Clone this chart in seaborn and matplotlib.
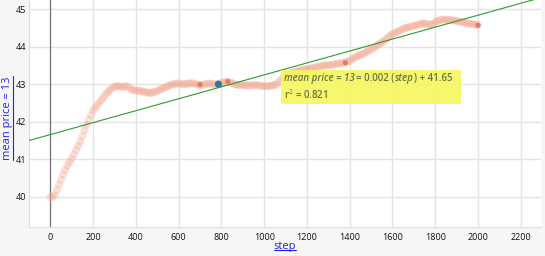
import numpy as np
import pandas as pd
import matplotlib
matplotlib.use("Agg")
import matplotlib.pyplot as plt
from matplotlib.lines import Line2D
from matplotlib.patches import Rectangle
from matplotlib.transforms import offset_copy
import seaborn as sns

steps = list(range(0, 2001, 10))
mean_price = [
    40.00, 40.00, 40.05, 40.18, 40.32, 40.46, 40.60, 40.72, 40.84, 40.93,
    41.02, 41.13, 41.25, 41.36, 41.48, 41.62, 41.78, 41.92, 42.05, 42.18,
    42.30, 42.38, 42.45, 42.52, 42.58, 42.66, 42.74, 42.80, 42.85, 42.90,
    42.93, 42.95, 42.95, 42.93, 42.92, 42.94, 42.95, 42.90, 42.85, 42.84,
    42.83, 42.83, 42.82, 42.81, 42.80, 42.78, 42.77, 42.77, 42.78, 42.80,
    42.82, 42.85, 42.88, 42.90, 42.92, 42.95, 42.97, 42.99, 43.00, 43.02,
    43.02, 43.01, 43.00, 43.00, 43.01, 43.02, 43.03, 43.02, 43.00, 42.99,
    42.98, 42.98, 42.99, 43.01, 43.02, 43.01, 43.00, 43.00, 43.00, 43.01,
    43.03, 43.05, 43.06, 43.07, 43.05, 43.03, 43.00, 42.99, 42.98, 42.98,
    42.98, 42.97, 42.97, 42.96, 42.97, 42.98, 42.98, 42.97, 42.96, 42.95,
    42.95, 42.94, 42.95, 42.96, 42.97, 42.98, 43.00, 43.06, 43.12, 43.18,
    43.22, 43.26, 43.28, 43.30, 43.32, 43.34, 43.35, 43.37, 43.38, 43.39,
    43.40, 43.41, 43.42, 43.44, 43.45, 43.46, 43.47, 43.49, 43.50, 43.50,
    43.51, 43.51, 43.52, 43.53, 43.54, 43.55, 43.56, 43.57, 43.58, 43.60,
    43.62, 43.66, 43.70, 43.73, 43.75, 43.78, 43.80, 43.83, 43.86, 43.89,
    43.92, 43.96, 44.00, 44.04, 44.08, 44.11, 44.14, 44.20, 44.25, 44.30,
    44.33, 44.36, 44.38, 44.41, 44.44, 44.47, 44.49, 44.51, 44.52, 44.54,
    44.55, 44.57, 44.58, 44.60, 44.62, 44.61, 44.60, 44.59, 44.58, 44.60,
    44.65, 44.68, 44.70, 44.71, 44.72, 44.72, 44.71, 44.71, 44.70, 44.69,
    44.68, 44.67, 44.66, 44.65, 44.63, 44.62, 44.61, 44.60, 44.60, 44.58,
    44.57,
]
red_steps = [700, 830, 1380, 2000]
red_prices = [42.99, 43.07, 43.57, 44.57]
blue_steps = [786]
blue_prices = [43.00]

x_ticks = list(range(0, 2201, 200))
y_ticks = [40, 41, 42, 43, 44, 45]
x_label = "step"
y_label = "mean price = 13"
eq_slope = "0.002"
eq_intercept = "41.65"
r2_text = "0.821"

assert len(steps) == len(mean_price)
df = pd.DataFrame({"step": steps, "price": mean_price})

sns.set_theme(style="white")
plt.rcParams["font.family"] = ["Open Sans", "DejaVu Sans"]
plt.rcParams["mathtext.fontset"] = "custom"
plt.rcParams["mathtext.rm"] = "Open Sans"
plt.rcParams["mathtext.it"] = "Open Sans:italic"

fig = plt.figure(figsize=(5.45, 2.56), dpi=100, facecolor="#f6f6f6")
ax = fig.add_axes([29 / 545, 29 / 256, 512 / 545, 227 / 256])
ax.set_facecolor("white")
ax.set_xlim(-100, 2295)
ax.set_ylim(39.2, 45.24)
ax.set_xticks(x_ticks)
ax.set_yticks(y_ticks)
ax.grid(True, color="#e4e4e4", lw=1.0)
ax.set_axisbelow(True)
for s in ["top", "right"]:
    ax.spines[s].set_visible(False)
for s in ["left", "bottom"]:
    ax.spines[s].set_color("#dddddd")
    ax.spines[s].set_linewidth(0.8)
ax.tick_params(axis="both", length=0, labelsize=6.5, colors="#111111")
ax.tick_params(axis="x", pad=4)
ax.tick_params(axis="y", pad=2)

ax.axvline(0, color="#777777", lw=0.9, zorder=1)

sns.scatterplot(data=df, x="step", y="price", ax=ax, color="#f2a58e",
                alpha=0.33, s=34, edgecolor="none", marker="o", zorder=2,
                legend=False)
sns.regplot(data=df, x="step", y="price", ax=ax, scatter=False, ci=None,
            truncate=False, color="#2e9a2e", line_kws={"lw": 0.8, "zorder": 3})
sns.scatterplot(x=red_steps, y=red_prices, ax=ax, color="#e9785e", s=14,
                edgecolor="none", zorder=4, legend=False)
sns.scatterplot(x=blue_steps, y=blue_prices, ax=ax, color="#2b7c9c", s=26,
                edgecolor="none", zorder=5, legend=False)

ax.set_xlim(-100, 2295)
ax.set_ylim(39.2, 45.24)
ax.set_xlabel("")
ax.set_ylabel("")

# annotation box
ax.add_patch(Rectangle((0.492, 0.542), 0.352, 0.150, transform=ax.transAxes,
                       facecolor="#f7f75e", edgecolor="none", alpha=0.9, zorder=6))
tc = "#66783e"
pieces = [(y_label, "italic"), (f"= {eq_slope} (", "normal"),
          ("step", "italic"), (f") + {eq_intercept}", "normal")]
fig.canvas.draw()
rend = fig.canvas.get_renderer()
x_off = 0.0
for txt, style in pieces:
    tr = offset_copy(ax.transAxes, fig=fig, x=x_off, y=0, units="dots")
    t = ax.text(0.499, 0.652, txt, transform=tr, fontsize=7, color=tc,
                va="center", ha="left", zorder=7, fontweight="semibold",
                fontstyle=style)
    x_off += t.get_window_extent(rend).width + 0.5
ax.text(0.499, 0.583, r"r$^2$" + f" = {r2_text}", transform=ax.transAxes,
        fontsize=7, color=tc, va="center", ha="left", zorder=7,
        fontweight="semibold")

# axis labels (blue, underlined)
xl = fig.text(285 / 545, 1 - 246 / 256, x_label, color="#2222ee", fontsize=8,
              ha="center", va="center")
yl = fig.text(8 / 545, 1 - 118 / 256, y_label, color="#2222ee", fontsize=8,
              ha="center", va="center", rotation=90)
fig.canvas.draw()
r = fig.canvas.get_renderer()
bx = xl.get_window_extent(r).transformed(fig.transFigure.inverted())
fig.add_artist(Line2D([bx.x0, bx.x1], [bx.y0 + 0.004, bx.y0 + 0.004],
                      transform=fig.transFigure, color="#2222ee", lw=0.8))
by = yl.get_window_extent(r).transformed(fig.transFigure.inverted())
fig.add_artist(Line2D([by.x1 - 0.001, by.x1 - 0.001], [by.y0, by.y1],
                      transform=fig.transFigure, color="#2222ee", lw=0.8))

fig.savefig("out.png", dpi=100, facecolor=fig.get_facecolor())
